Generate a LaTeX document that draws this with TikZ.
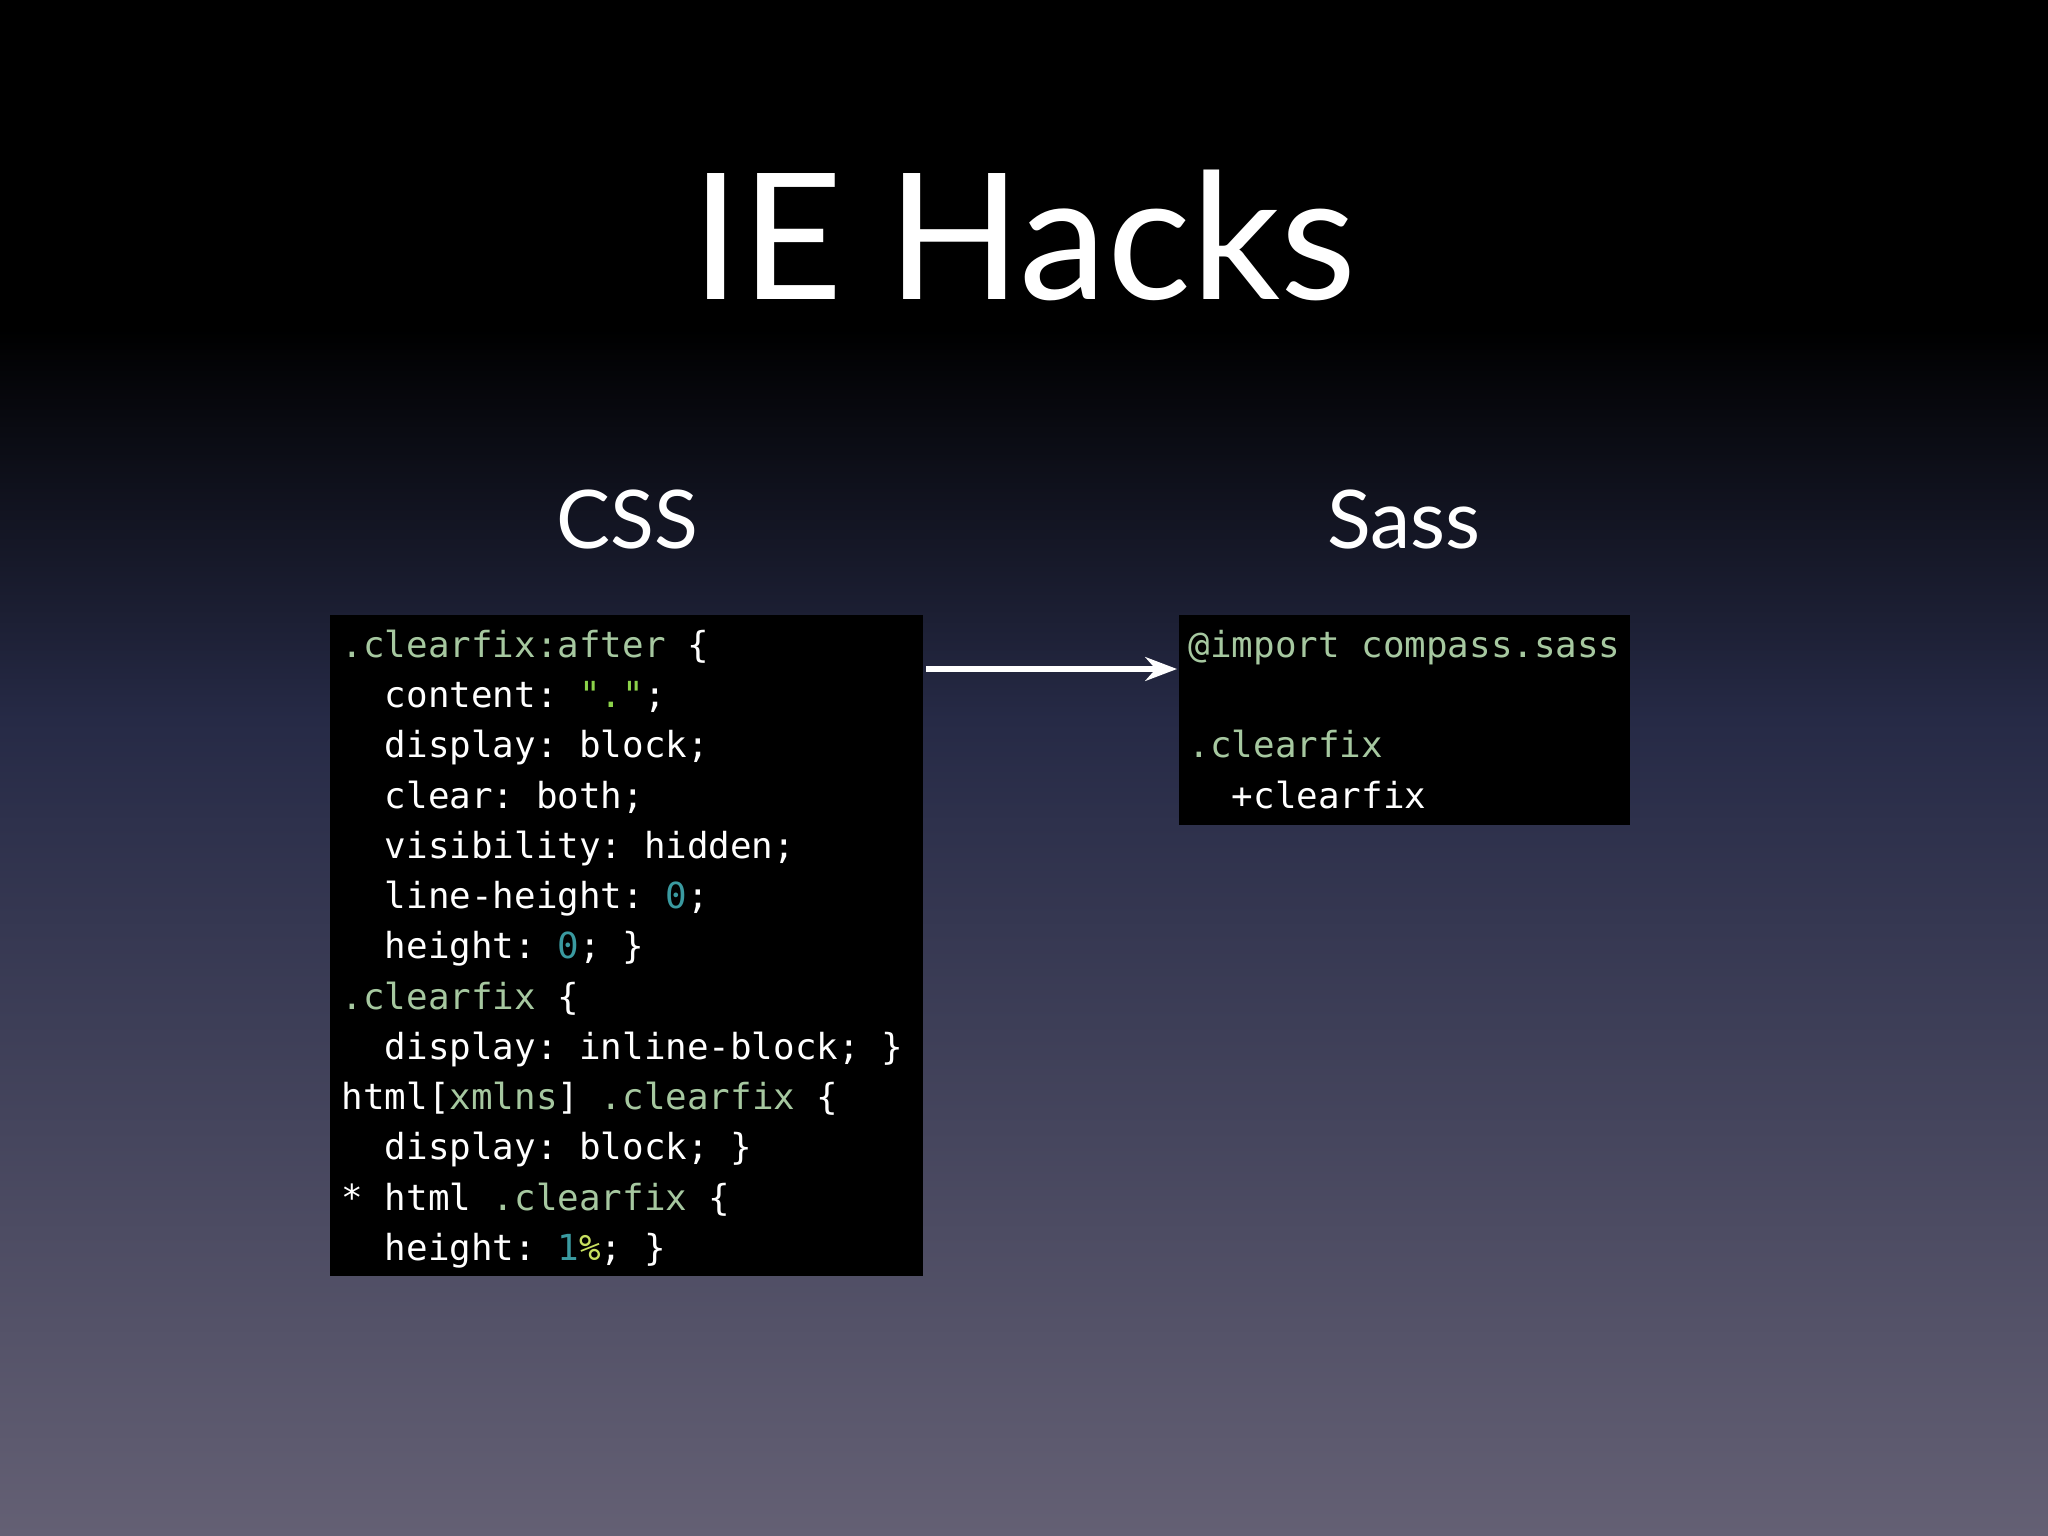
\documentclass[tikz,border=0pt]{standalone}
\usepackage{fontspec}
\usetikzlibrary{arrows.meta}
\setmainfont{Lato}
\setmonofont{DejaVu Sans Mono}
\definecolor{sel}{HTML}{A6C8A0}
\definecolor{strg}{HTML}{8CD34A}
\definecolor{num}{HTML}{3A9AA0}
\definecolor{pct}{HTML}{C8E060}
\definecolor{bgmid}{HTML}{262A46}
\definecolor{bgbot}{HTML}{646074}
\begin{document}
\begin{tikzpicture}[x=0.01cm,y=-0.01cm,
  code/.style={anchor=base west,inner sep=0pt,text=white,font=\ttfamily\fontsize{10.2pt}{12pt}\selectfont},
  box/.style={fill=black,draw=none}]
\useasboundingbox (0,0) rectangle (2048,1536);
\fill[black] (0,0) rectangle (2048,330);
\shade[top color=black,bottom color=bgmid] (0,329) rectangle (2048,720);
\shade[top color=bgmid,bottom color=bgbot] (0,719) rectangle (2048,1536);
\node[text=white,font=\fontsize{50pt}{54pt}\selectfont] (title) at (1024,235) {IE Hacks};
\node[text=white,font=\fontsize{23pt}{26pt}\selectfont] (css) at (627,520) {CSS};
\node[text=white,font=\fontsize{23pt}{26pt}\selectfont] (sass) at (1404,520) {Sass};
\fill[box] (330,615) rectangle (923,1276);
\fill[box] (1179,615) rectangle (1630,825);
\coordinate (a1) at (926,669);
\coordinate (a2) at (1177,669);
\draw[white,line width=1.8pt,-{Stealth[length=9pt]}] (a1) -- (a2);
\def\L{341}
\node[code] (c1) at (\L,657) {\textcolor{sel}{.clearfix:after} \{};
\node[code] (c2) at (\L,707) {\ \ content: \textcolor{strg}{"."};};
\node[code] (c3) at (\L,757) {\ \ display: block;};
\node[code] (c4) at (\L,808) {\ \ clear: both;};
\node[code] (c5) at (\L,858) {\ \ visibility: hidden;};
\node[code] (c6) at (\L,908) {\ \ line-height: \textcolor{num}{0};};
\node[code] (c7) at (\L,958) {\ \ height: \textcolor{num}{0}; \}};
\node[code] (c8) at (\L,1009) {\textcolor{sel}{.clearfix} \{};
\node[code] (c9) at (\L,1059) {\ \ display: inline-block; \}};
\node[code] (c10) at (\L,1109) {html[\textcolor{sel}{xmlns}] \textcolor{sel}{.clearfix} \{};
\node[code] (c11) at (\L,1159) {\ \ display: block; \}};
\node[code] (c12) at (\L,1210) {* html \textcolor{sel}{.clearfix} \{};
\node[code] (c13) at (\L,1260) {\ \ height: \textcolor{num}{1}\textcolor{pct}{\%}; \}};
\def\R{1188}
\node[code] (s1) at (\R,657) {\textcolor{sel}{@import compass.sass}};
\node[code] (s2) at (\R,757) {\textcolor{sel}{.clearfix}};
\node[code] (s3) at (\R,808) {\ \ +clearfix};
\end{tikzpicture}
\end{document}
